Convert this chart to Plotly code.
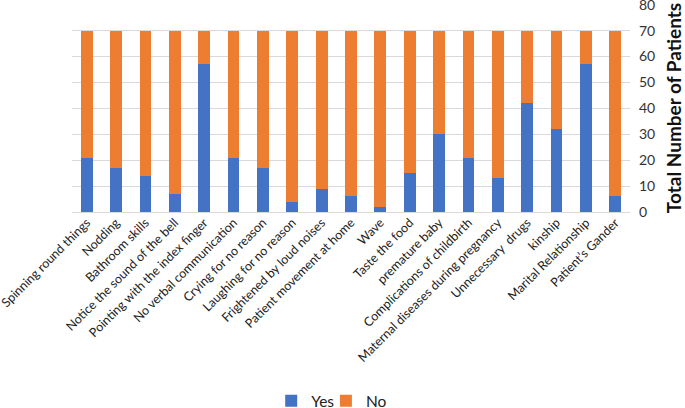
import plotly.graph_objects as go

# ── Data ──────────────────────────────────────────────────────────────────────
categories = [
    "Spinning round things", "Nodding", "Bathroom skills",
    "Notice the sound of the bell", "Pointing with the index finger",
    "No verbal communication", "Crying for no reason", "Laughing for no reason",
    "Frightened by loud noises", "Patient movement at home", "Wave",
    "Taste the food", "premature baby", "Complications of childbirth",
    "Maternal diseases during pregnancy", "Unnecessary  drugs", "kinship",
    "Marital Relationship", "Patient’s Gander",
]
yes_vals = [21, 17, 14, 7, 57, 21, 17, 4, 9, 6, 2, 15, 30, 21, 13, 42, 32, 57, 6]
no_vals  = [49, 53, 56, 63, 13, 49, 53, 66, 61, 64, 68, 55, 40, 49, 57, 28, 38, 13, 64]

y_min, y_max, y_step = 0, 80, 10

FONT = "Lato"

# ── Figure ────────────────────────────────────────────────────────────────────
fig = go.Figure()
fig.add_trace(go.Bar(x=categories, y=yes_vals, name="Yes", legend="legend",
                     showlegend=True,
                     marker=dict(color="#4472C4", line=dict(width=0))))
fig.add_trace(go.Bar(x=categories, y=no_vals, name="No", legend="legend2",
                     showlegend=True,
                     marker=dict(color="#ED7D31", line=dict(width=0))))

# two single-entry legends so the entries sit close together, Excel style
legend_common = dict(orientation="h", y=-0.91, yanchor="middle",
                     xanchor="left", font=dict(size=15.5, color="#222222"),
                     bgcolor="rgba(0,0,0,0)", visible=True)

fig.update_layout(
    barmode="stack",
    bargap=0.6,
    showlegend=True,
    width=685, height=408,
    margin=dict(l=72, r=55, t=4, b=196, autoexpand=False),
    plot_bgcolor="white",
    paper_bgcolor="white",
    font=dict(family=FONT, size=12.5, color="#222222"),
    legend=dict(x=0.357, **legend_common),
    legend2=dict(x=0.455, **legend_common),
    xaxis=dict(tickangle=-45, automargin=False, showgrid=False,
               showline=False, ticks="", tickfont=dict(size=12.5)),
    yaxis=dict(side="right", range=[y_min, y_max + 0.3], tick0=y_min,
               dtick=y_step, tickmode="linear",
               showgrid=True, gridcolor="#D9D9D9", gridwidth=1,
               zeroline=True, zerolinecolor="#D9D9D9", zerolinewidth=1,
               showline=False, ticks="", automargin=False,
               ticklabeloverflow="allow", ticklabelstandoff=8,
               tickfont=dict(size=14, color="#333333"),
               title=dict(text="<b>Total Number of Patients</b>",
                          font=dict(size=19, color="#111111"), standoff=15)),
)

# page body has a default 8px margin; drop it so the chart sits at the corner
fig.write_html("out.html", config={"displayModeBar": False},
               post_script="document.body.style.margin='0px';")
